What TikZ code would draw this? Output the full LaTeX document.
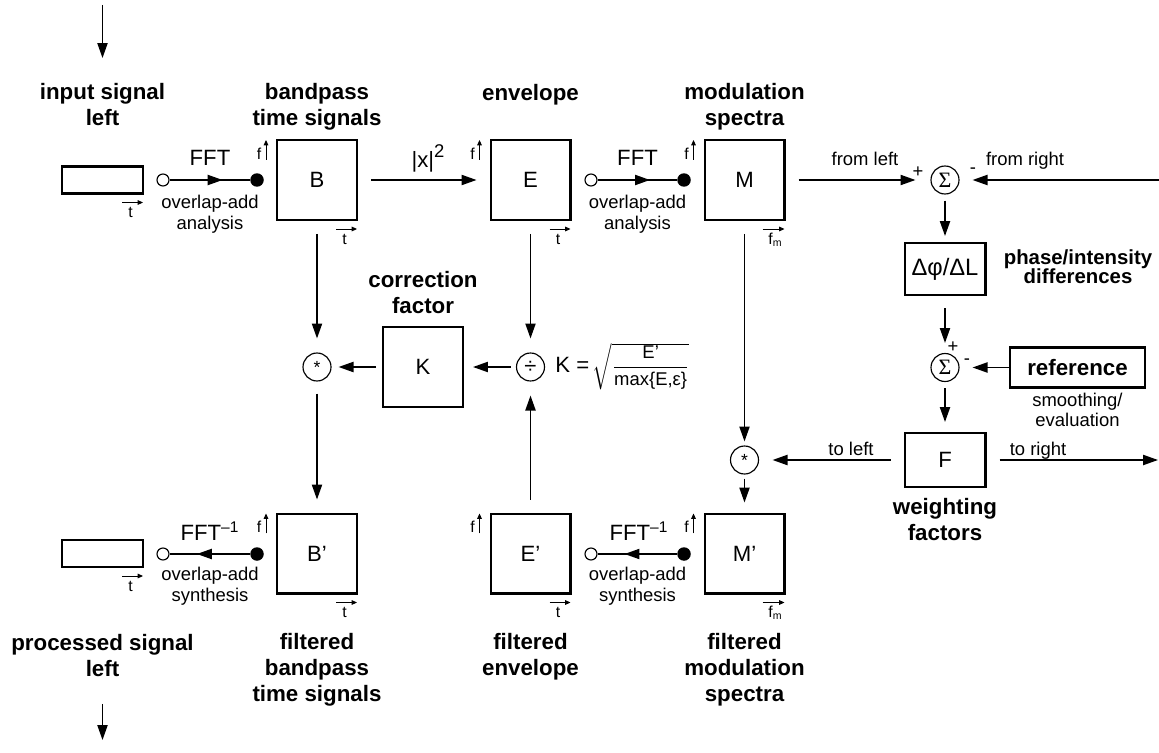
\documentclass[tikz,border=0pt]{standalone}
\usepackage{fontspec}
\usepackage{amsmath}
\setmainfont{Liberation Sans}
\newfontfamily\gkserif{Liberation Serif}
\usetikzlibrary{arrows.meta,decorations.markings}
\newcommand\labfont{\fontsize{12.7}{14.9}\selectfont\bfseries}
\newcommand\tightlabfont{\fontsize{11.6}{11.3}\selectfont\bfseries\lineskiplimit-6pt\relax}
\newcommand\letterfont{\fontsize{12.6}{15}\selectfont}
\newcommand\notefont{\fontsize{10.5}{11.9}\selectfont}
\newcommand\axfont{\fontsize{9}{10}\selectfont}

\begin{document}
\begin{tikzpicture}[x=0.02cm,y=-0.02cm,
  arr/.style={line width=0.85pt,-{Triangle[length=8.5pt,width=5.8pt]}},
  axarr/.style={line width=0.55pt,-{Triangle[length=3pt,width=2.6pt]}},
  fftarr/.style={line width=0.85pt,postaction=decorate,
    decoration={markings,mark=at position 0.66 with {\arrow{Triangle[length=8.5pt,width=5.8pt]}}}},
  blk/.style={draw,line width=1.15pt,minimum width=1.6cm,minimum height=1.6cm,inner sep=0pt,font=\letterfont},
  sumc/.style={draw,circle,line width=0.65pt,minimum size=0.56cm,inner sep=0pt},
  opend/.style={draw,circle,fill=white,line width=0.65pt,minimum size=0.24cm,inner sep=0pt},
  filld/.style={circle,fill=black,minimum size=0.27cm,inner sep=0pt},
  labs/.style={font=\labfont,align=center,anchor=north,inner sep=0pt},
  notes/.style={font=\notefont,align=center,anchor=north,inner sep=0pt},
  side/.style={font=\notefont,anchor=base,inner sep=0pt}]

\useasboundingbox (0,0) rectangle (1159,753);

% ---- blocks -------------------------------------------------------
\node[blk,minimum width=1.62cm,minimum height=0.54cm] (In) at (102.5,180) {};
\node[blk] (B)  at (317,180)   {B};
\node[blk] (E)  at (530.5,180) {E};
\node[blk] (M)  at (744.5,180) {M};
\node[blk] (K)  at (423,367)   {K};
\node[blk,minimum width=1.62cm,minimum height=0.54cm] (Out) at (102.5,553.5) {};
\node[blk] (Bp) at (317,553.5)   {B’};
\node[blk] (Ep) at (530.5,553.5) {E’};
\node[blk] (Mp) at (744.5,553.5) {M’};
\node[blk,minimum width=1.62cm,minimum height=1.04cm,font=\fontsize{13.5}{15}\selectfont] (D) at (945,269) {Δφ/ΔL};
\node[blk,minimum width=2.7cm,minimum height=0.8cm,font=\labfont] (R) at (1077.5,367.5) {reference};
\node[blk,minimum width=1.62cm,minimum height=1.08cm] (F) at (945,460) {F};

% ---- operators ----------------------------------------------------
\node[sumc,font=\gkserif\fontsize{12.5}{14}\selectfont] (S1) at (945,180) {Σ};
\node[sumc,font=\gkserif\fontsize{12.5}{14}\selectfont] (S2) at (945,367.5) {Σ};
\node[sumc,font=\fontsize{10}{12}\selectfont] (X1) at (317,367) {*};
\node[sumc,font=\fontsize{12.5}{14}\selectfont] (Dv) at (530.5,367) {÷};
\node[sumc,font=\fontsize{10}{12}\selectfont] (X2) at (744.5,460) {*};

% ---- FFT end points -----------------------------------------------
\node[opend] (o1) at (163,180) {};
\node[filld] (f1) at (257,180) {};
\node[opend] (o2) at (591,180) {};
\node[filld] (f2) at (684,180) {};
\node[opend] (o3) at (163,554) {};
\node[filld] (f3) at (257,554) {};
\node[opend] (o4) at (591,554) {};
\node[filld] (f4) at (684,554) {};

\draw[fftarr] (o1) -- (f1);
\draw[fftarr] (o2) -- (f2);
\draw[fftarr] (f3) -- (o3);
\draw[fftarr] (f4) -- (o4);

\node[font=\letterfont,anchor=base] (fft1) at (210,166) {FFT};
\node[font=\letterfont,anchor=base] (fft2) at (637.5,166) {FFT};
\node[font=\letterfont,anchor=base] (ifft1) at (210,540) {FFT\textsuperscript{–1}};
\node[font=\letterfont,anchor=base] (ifft2) at (639,540) {FFT\textsuperscript{–1}};
\node[notes] (ola1) at (210,194.5) {overlap-add\\analysis};
\node[notes] (ola2) at (637.5,194.5) {overlap-add\\analysis};
\node[notes] (ols1) at (210,566.5) {overlap-add\\synthesis};
\node[notes] (ols2) at (637.5,566.5) {overlap-add\\synthesis};

% ---- axis marks ---------------------------------------------------
\foreach \b in {B,E,M,Bp,Ep,Mp}{
  \draw[axarr] ([xshift=-0.2cm,yshift=-0.42cm]\b.north west) -- ([xshift=-0.2cm,yshift=-0.02cm]\b.north west);
  \node[font=\axfont,inner sep=0pt] (fa\b) at ([xshift=-0.34cm,yshift=-0.29cm]\b.north west) {f};
}
\foreach \b in {In,B,E,Out,Bp,Ep}{
  \draw[axarr] ([xshift=-0.44cm,yshift=-0.16cm]\b.south east) -- ([xshift=-0.02cm,yshift=-0.16cm]\b.south east);
  \node[font=\axfont,inner sep=0pt] (ta\b) at ([xshift=-0.27cm,yshift=-0.36cm]\b.south east) {t};
}
\foreach \b in {M,Mp}{
  \draw[axarr] ([xshift=-0.46cm,yshift=-0.16cm]\b.south east) -- ([xshift=-0.02cm,yshift=-0.16cm]\b.south east);
  \node[font=\axfont,inner sep=0pt] (fm\b) at ([xshift=-0.2cm,yshift=-0.37cm]\b.south east) {f\textsubscript{m}};
}

% ---- connectors ---------------------------------------------------
\coordinate (topin) at (102.5,5);
\coordinate (botout) at (102.5,740);
\coordinate (fromright) at (1159,180);
\coordinate (toright) at (1158,460);

\draw[arr,shorten <=0.26cm,shorten >=0.26cm] (B) -- (E);
\node[font=\letterfont,anchor=base] (sq) at (428,168) {|x|\raisebox{6pt}{\fontsize{10.5}{12}\selectfont 2}};

\draw[arr,shorten <=0.26cm,shorten >=0.3cm] (M) -- (S1);
\draw[arr,shorten >=0.26cm] (fromright) -- (S1);
\draw[arr,shorten <=0.12cm,shorten >=0.12cm] (S1) -- (D);
\draw[arr,shorten <=0.24cm,shorten >=0.2cm] (D) -- (S2);
\draw[arr,shorten >=0.26cm] (R) -- (S2);
\draw[arr,shorten <=0.12cm,shorten >=0.2cm] (S2) -- (F);
\draw[arr,shorten <=0.26cm,shorten >=0.27cm] (F) -- (X2);
\draw[arr,shorten <=0.26cm] (F) -- (toright);
\draw[arr,shorten <=0.26cm,shorten >=0.08cm] (M) -- (X2);
\draw[arr,shorten <=0.08cm,shorten >=0.2cm] (X2) -- (Mp);

\draw[arr,shorten <=0.26cm,shorten >=0.28cm] (B) -- (X1);
\draw[arr,shorten <=0.26cm,shorten >=0.28cm] (E) -- (Dv);
\draw[arr,shorten <=0.26cm,shorten >=0.28cm] (Ep) -- (Dv);
\draw[arr,shorten <=0.24cm,shorten >=0.26cm] (X1) -- (Bp);
\draw[arr,shorten <=0.12cm,shorten >=0.14cm] (K) -- (X1);
\draw[arr,shorten <=0.1cm,shorten >=0.18cm] (Dv) -- (K);

% ---- signs and side labels -----------------------------------------
\node[font=\notefont] (p1) at (918,172) {+};
\node[font=\notefont] (m1) at (973,171) {-};
\node[font=\notefont] (p2) at (953,347) {+};
\node[font=\notefont] (m2) at (967,362) {-};
\node[side] (fl) at (865,166) {from left};
\node[side] (fr) at (1025,166) {from right};
\node[side] (tl) at (851,455) {to left};
\node[side] (tr) at (1038,455) {to right};
\node[notes,font=\fontsize{10.5}{11.3}\selectfont] (sm) at (1077.5,393) {smoothing/\\evaluation};

\node[anchor=base west,inner sep=0pt,font=\notefont] (Kf) at (555,372)
  {{\letterfont K =\,}$\sqrt{\dfrac{\text{E’}}{\text{max\{E,ε\}}}}$};

% ---- block titles -------------------------------------------------
\node[labs] (lin) at (102.5,83) {input signal\\left};
\node[labs] (lB)  at (317,83) {bandpass\\time signals};
\node[labs] (lE)  at (530.5,84) {envelope};
\node[labs] (lM)  at (744.5,83) {modulation\\spectra};
\node[labs] (lK)  at (423,271) {correction\\factor};
\node[labs,font=\tightlabfont] (lD) at (1078,249) {phase/intensity\\differences};
\node[labs] (lF)  at (945,497.5) {weighting\\factors};
\node[labs] (lout) at (102.5,633.5) {processed signal\\left};
\node[labs] (lBp) at (317,633) {filtered\\bandpass\\time signals};
\node[labs] (lEp) at (530.5,633) {filtered\\envelope};
\node[labs] (lMp) at (744.5,633) {filtered\\modulation\\spectra};

\draw[arr,shorten >=0.5cm] (topin) -- (lin);
\draw[arr,shorten <=0.54cm] (lout) -- (botout);

\end{tikzpicture}
\end{document}
